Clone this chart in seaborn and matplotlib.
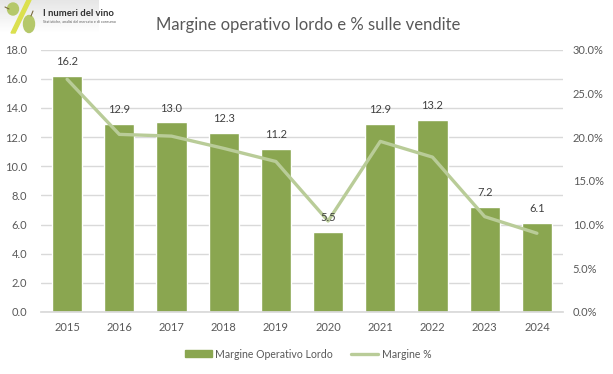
import numpy as np
import pandas as pd
import seaborn as sns
from matplotlib import pyplot as plt
from matplotlib.patches import Polygon, Ellipse
from matplotlib.lines import Line2D
from matplotlib.patches import Patch

years = ['2015', '2016', '2017', '2018', '2019', '2020', '2021', '2022', '2023', '2024']
mol = [16.2, 12.9, 13.0, 12.3, 11.2, 5.5, 12.9, 13.2, 7.2, 6.1]
margine = [26.6, 20.3, 20.1, 18.7, 17.2, 10.4, 19.5, 17.7, 10.9, 9.0]
left_ticks = [0, 2, 4, 6, 8, 10, 12, 14, 16, 18]
right_ticks = [0, 5, 10, 15, 20, 25, 30]

sns.set_theme(style='white')
plt.rcParams['font.family'] = ['Lato', 'DejaVu Sans']

df = pd.DataFrame({'year': years, 'mol': mol, 'margine': margine})

W, H = 613, 374
fig = plt.figure(figsize=(W / 100, H / 100), dpi=100)
ax = fig.add_axes([41 / W, 1 - 312 / H, 522 / W, 262.5 / H])

sns.barplot(data=df, x='year', y='mol', color='#8aa650', saturation=1, width=0.58, ax=ax, zorder=2)
ax.set_ylim(0, 18)
ax.set_xlim(-0.5, 9.5)
ax.set_yticks(left_ticks)
ax.set_yticklabels(['%.1f' % t for t in left_ticks])
ax.set_xlabel('')
ax.set_ylabel('')
ax.grid(axis='y', color='#d9d9d9', lw=1)
ax.set_axisbelow(True)
ax.tick_params(length=0, labelsize=8, labelcolor='#595959', pad=7)
ax.tick_params(axis='y', pad=10)
for s in ['top', 'left', 'right']:
    ax.spines[s].set_visible(False)
ax.spines['bottom'].set_color('#d9d9d9')

ax2 = ax.twinx()
sns.lineplot(data=df, x='year', y='margine', color='#b9cc98', lw=2.4, ax=ax2, sort=False, zorder=3)
ax2.set_ylim(0, 30)
ax2.set_yticks(right_ticks)
ax2.set_yticklabels(['%.1f%%' % t for t in right_ticks])
ax2.set_xlabel('')
ax2.set_ylabel('')
ax2.tick_params(length=0, labelsize=8, labelcolor='#595959', pad=7)
for s in ax2.spines.values():
    s.set_visible(False)

# etichette sopra le barre
for i, v in enumerate(mol):
    ax2.text(i, v / 18 * 30 + 1.0, '%.1f' % v, ha='center', va='bottom', fontsize=8, color='#404040')

fig.text(308 / W, 1 - 25 / H, 'Margine operativo lordo e % sulle vendite', ha='center', va='center',
         fontsize=12, color='#595959')

# legenda
handles = [Patch(color='#8aa650'), Line2D([0], [0], color='#b9cc98', lw=2.4)]
fig.legend(handles, ['Margine Operativo Lordo', 'Margine %'], loc='center', bbox_to_anchor=(308 / W, 1 - 354 / H),
           ncol=2, frameon=False, fontsize=7.6, labelcolor='#595959', handlelength=2.6, handleheight=0.6,
           columnspacing=1.7, handletextpad=0.3)

# logo
logo = fig.add_axes([0, 1 - 34 / H, 99 / W, 34 / H])
logo.imshow(np.linspace(0.9, 1, 34).reshape(-1, 1), cmap='gray', vmin=0, vmax=1, aspect='auto', extent=(0, 99, 34, 0))
logo.add_patch(Polygon([[27, 0], [31, 0], [15, 33], [11, 33]], color='#dbe04f'))
logo.add_patch(Ellipse((13, 9), 11, 12, color='#b5c86a'))
logo.add_patch(Ellipse((29, 24), 11, 17, color='#b5c86a'))
logo.plot([5, 9], [7, 9], color='#7a6a40', lw=0.8)
logo.plot([31, 33], [16, 11], color='#7a6a40', lw=0.8)
logo.text(43, 13, 'I numeri del vino', fontsize=6.8, fontweight='bold', color='#303030', va='center')
logo.text(43, 21, 'Statistiche, analisi del mercato e di consumo', fontsize=2.7, color='#606060', va='center')
logo.set_xlim(0, 99)
logo.set_ylim(34, 0)
logo.axis('off')

fig.savefig('out.png', dpi=100)
